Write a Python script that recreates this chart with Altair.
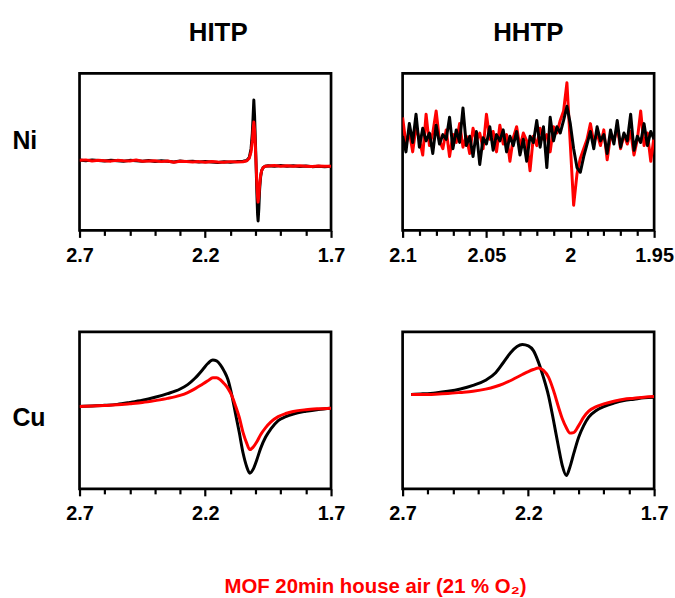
import altair as alt
import pandas as pd

FONT = "Liberation Sans"
CAPTION = "MOF 20min house air (21 % O₂)"
COL_TITLES = ["HITP", "HHTP"]
ROW_LABELS = ["Ni", "Cu"]

# tick values (g-value axis, reversed)
TICKS_WIDE = [2.7, 2.6, 2.5, 2.4, 2.3, 2.2, 2.1, 2.0, 1.9, 1.8, 1.7]
MAJOR_WIDE = [2.7, 2.2, 1.7]
TICKS_NARROW = [2.1, 2.09, 2.08, 2.07, 2.06, 2.05, 2.04, 2.03, 2.02, 2.01,
                2.0, 1.99, 1.98, 1.97, 1.96, 1.95]
MAJOR_NARROW = [2.1, 2.05, 2.0, 1.95]

# ---------------- HITP / Ni ----------------
G_HITP_NI = [2.70, 2.675, 2.65, 2.625, 2.60, 2.575, 2.55, 2.525, 2.50, 2.475,
             2.45, 2.425, 2.40, 2.375, 2.35, 2.325, 2.30, 2.275, 2.25, 2.225,
             2.20, 2.175, 2.15, 2.125, 2.10, 2.075, 2.05,
             2.035, 2.025, 2.018, 2.013, 2.010, 2.007, 2.004, 2.001, 1.998, 1.995,
             1.992, 1.990, 1.987, 1.984, 1.980, 1.976, 1.970, 1.962,
             1.95, 1.925, 1.90, 1.875, 1.85, 1.825, 1.80, 1.775, 1.75, 1.725, 1.70]
HITP_NI_BLACK = [44.8, 44.3, 44.9, 44.5, 44.2, 44.7, 44.4, 44.0, 44.6, 44.3,
                 44.1, 44.5, 43.9, 44.3, 44.0, 43.6, 44.2, 43.8, 44.0, 43.5,
                 43.9, 43.6, 43.2, 43.7, 43.4, 43.8, 44.0,
                 44.5, 46.5, 52, 62, 72, 83, 73, 58, 42, 24,
                 10, 6, 14, 26, 34, 38, 40, 40.8,
                 41.2, 40.8, 41.3, 40.9, 41.1, 40.7, 41.0, 40.6, 40.9, 40.5, 40.8]
HITP_NI_RED = [44.6, 44.9, 44.2, 44.7, 44.4, 44.1, 44.6, 44.3, 44.2, 44.8,
               44.0, 44.2, 44.3, 43.8, 44.2, 43.4, 44.0, 43.9, 43.6, 43.8,
               43.4, 43.9, 43.5, 43.4, 43.8, 43.5, 43.7,
               44.3, 46, 50, 57, 64, 69, 64, 54, 42, 30,
               21, 18, 22, 29, 35, 38, 40, 40.8,
               41.0, 41.3, 40.9, 41.2, 40.8, 41.1, 40.9, 40.7, 41.0, 40.8, 40.9]

# ---------------- HHTP / Ni ----------------
G_HHTP_NI = [2.100, 2.098, 2.096, 2.094, 2.092, 2.090, 2.088, 2.086, 2.084, 2.082,
             2.080, 2.078, 2.076, 2.074, 2.072, 2.070, 2.068, 2.066, 2.064, 2.062,
             2.060, 2.058, 2.056, 2.054, 2.052, 2.050, 2.048, 2.046, 2.044, 2.042,
             2.040, 2.038, 2.036, 2.034, 2.032, 2.030, 2.028, 2.026, 2.024, 2.022,
             2.020, 2.018, 2.016, 2.014, 2.012, 2.010, 2.008, 2.006, 2.004, 2.002,
             2.000, 1.998, 1.996, 1.994, 1.992, 1.990, 1.988, 1.986, 1.984, 1.982,
             1.980, 1.978, 1.976, 1.974, 1.972, 1.970, 1.968, 1.966, 1.964, 1.962,
             1.960, 1.958, 1.956, 1.954, 1.952, 1.950]
HHTP_NI_BLACK = [60, 50, 68, 56, 74, 53, 65, 57, 62, 49,
                 67, 55, 61, 58, 72, 52, 64, 56, 78, 54,
                 60, 47, 63, 42, 59, 55, 66, 51, 61, 57,
                 64, 50, 60, 54, 63, 48, 58, 44, 60, 56,
                 70, 53, 66, 40, 72, 57, 66, 62, 70, 79,
                 68, 52, 40, 37, 47, 55, 63, 52, 66, 57,
                 61, 49, 64, 55, 70, 53, 62, 57, 74, 51,
                 60, 56, 68, 54, 63, 58]
HHTP_NI_RED = [72, 55, 63, 50, 66, 58, 48, 74, 54, 62,
               76, 57, 52, 64, 47, 61, 56, 68, 53, 60,
               49, 65, 57, 62, 52, 74, 58, 63, 50, 67,
               55, 61, 44, 59, 66, 53, 62, 57, 38, 60,
               54, 65, 58, 61, 50, 66, 62, 70, 76, 94,
               55, 16, 36, 46, 52, 58, 68, 56, 62, 54,
               64, 45, 60, 57, 66, 52, 61, 55, 63, 48,
               58, 76, 54, 62, 44, 60]

# ---------------- HITP / Cu ----------------
G_HITP_CU = [2.70, 2.65, 2.60, 2.55, 2.50, 2.45, 2.40, 2.35, 2.30, 2.27,
             2.24, 2.21, 2.19, 2.17, 2.155, 2.14, 2.125, 2.11, 2.095, 2.08,
             2.065, 2.05, 2.035, 2.023, 2.01, 1.995, 1.98, 1.96, 1.94, 1.91,
             1.88, 1.85, 1.80, 1.75, 1.70]
HITP_CU_BLACK = [52.5, 52.8, 53.2, 53.8, 55.0, 56.4, 58.3, 60.6, 63.6, 66.4,
                 70.6, 76.0, 79.8, 82.0, 81.5, 79.0, 75.0, 69.6, 60.0, 48.0,
                 36.0, 23.0, 14.0, 10.0, 12.4, 18.6, 25.8, 33.0, 38.0, 43.5,
                 46.0, 47.7, 49.4, 50.6, 51.4]
HITP_CU_RED = [52.5, 52.8, 53.1, 53.5, 54.2, 55.0, 56.2, 57.6, 59.5, 61.3,
               63.8, 66.8, 68.8, 70.8, 70.8, 69.5, 67.0, 64.0, 59.5, 53.0,
               45.6, 36.0, 29.0, 25.0, 26.5, 30.0, 34.5, 39.0, 42.5, 46.0,
               48.0, 49.3, 50.4, 51.0, 51.4]

# ---------------- HHTP / Cu ----------------
G_HHTP_CU = [2.666, 2.62, 2.57, 2.52, 2.47, 2.42, 2.37, 2.33, 2.30, 2.27,
             2.245, 2.224, 2.20, 2.18, 2.16, 2.14, 2.12, 2.10, 2.08, 2.065,
             2.049, 2.035, 2.02, 2.00, 1.98, 1.96, 1.93, 1.90, 1.86, 1.82,
             1.78, 1.74, 1.70]
HHTP_CU_BLACK = [60.1, 60.5, 61.1, 62.1, 63.6, 65.9, 69.2, 74.0, 80.3, 86.8,
                 90.6, 91.9, 91.0, 88.0, 80.7, 71.0, 59.4, 43.5, 26.5, 14.8,
                 8.5, 13.8, 22.3, 32.9, 40.3, 45.7, 49.9, 52.4, 54.6, 56.2,
                 57.1, 58.0, 58.4]
HHTP_CU_RED = [60.1, 60.1, 60.3, 60.7, 61.4, 62.2, 63.5, 65.2, 66.9, 69.0,
               71.1, 72.8, 74.7, 76.0, 76.9, 75.4, 71.1, 62.6, 52.0, 44.6,
               38.9, 35.5, 35.8, 40.3, 45.7, 49.5, 52.4, 54.1, 55.8, 57.1,
               57.7, 58.4, 58.8]

PANEL_W = 253
PANEL_H = 158


def make_panel(g, black, red, xdom, ticks, majors, red_on_top=True,
               interp="linear", title=None, title_dx=0, row_label=None, row_y=79):
    dfb = pd.DataFrame({"g": g, "v": black})
    dfr = pd.DataFrame({"g": g, "v": red})
    major_js = "[" + ",".join(repr(float(v)) for v in majors) + "]"
    is_major = f"indexof({major_js}, round(datum.value*1000)/1000) >= 0"
    xaxis = alt.Axis(
        values=ticks,
        labelExpr=f"{is_major} ? format(datum.value, '~g') : ''",
        tickSize={"condition": {"test": is_major, "value": 7}, "value": 5},
        title=None, grid=False, domain=False,
        labelFont=FONT, labelFontSize=20, labelFontWeight="bold",
        labelColor="black", labelPadding=8, labelFlush=False,
        tickColor="black", tickWidth=2.2,
        labelOverlap=False,
    )
    if row_label is not None:
        yaxis = alt.Axis(
            title=row_label, labels=False, ticks=False, domain=False, grid=False,
            titleAngle=0, titleAlign="left", titleBaseline="middle",
            titleX=-68, titleY=row_y, titleFont=FONT, titleFontSize=25,
            titleFontWeight="bold", titleColor="black",
        )
    else:
        yaxis = None
    xenc = alt.X("g:Q", scale=alt.Scale(domain=xdom, reverse=True, nice=False, zero=False),
                 axis=xaxis)
    yenc = alt.Y("v:Q", scale=alt.Scale(domain=[0, 100], nice=False, zero=False),
                 axis=yaxis)
    order = alt.Order("g:Q", sort="descending")

    lb = alt.Chart(dfb).mark_line(color="black", strokeWidth=3, clip=True,
                                  interpolate=interp, strokeJoin="round").encode(
        x=xenc, y=yenc, order=order)
    lr = alt.Chart(dfr).mark_line(color="#ff0000", strokeWidth=3, clip=True,
                                  interpolate=interp, strokeJoin="round").encode(
        x=xenc, y=yenc, order=order)
    layers = [lb, lr] if red_on_top else [lr, lb]
    ch = alt.layer(*layers).properties(width=PANEL_W, height=PANEL_H)
    if title is not None:
        ch = ch.properties(title=alt.TitleParams(
            text=title, font=FONT, fontSize=26, fontWeight="bold", color="black",
            anchor="middle", frame="group", offset=28, dx=title_dx))
    return ch


p1 = make_panel(G_HITP_NI, HITP_NI_BLACK, HITP_NI_RED, [1.7, 2.7], TICKS_WIDE, MAJOR_WIDE,
                red_on_top=True, title=COL_TITLES[0], title_dx=13,
                row_label=ROW_LABELS[0], row_y=68)
p2 = make_panel(G_HHTP_NI, HHTP_NI_BLACK, HHTP_NI_RED, [1.95, 2.1], TICKS_NARROW, MAJOR_NARROW,
                red_on_top=False, title=COL_TITLES[1])
p3 = make_panel(G_HITP_CU, HITP_CU_BLACK, HITP_CU_RED, [1.7, 2.7], TICKS_WIDE, MAJOR_WIDE,
                red_on_top=True, interp="monotone", row_label=ROW_LABELS[1], row_y=86)
p4 = make_panel(G_HHTP_CU, HHTP_CU_BLACK, HHTP_CU_RED, [1.7, 2.7], TICKS_WIDE, MAJOR_WIDE,
                red_on_top=True, interp="monotone")

chart = alt.concat(
    p1, p2, p3, p4, columns=2, spacing={"row": 102, "column": 72}, bounds="flush"
).properties(
    title=alt.TitleParams(text=CAPTION, orient="bottom", anchor="middle", color="#ff0000",
                          font=FONT, fontSize=20.5, fontWeight="bold", offset=52, dx=33),
    padding={"left": 10, "top": 16, "right": 0, "bottom": 0},
    background="white",
).configure_view(
    stroke="black", strokeWidth=2.7
)

chart.save("out.html", embed_options={"renderer": "svg", "actions": False})
